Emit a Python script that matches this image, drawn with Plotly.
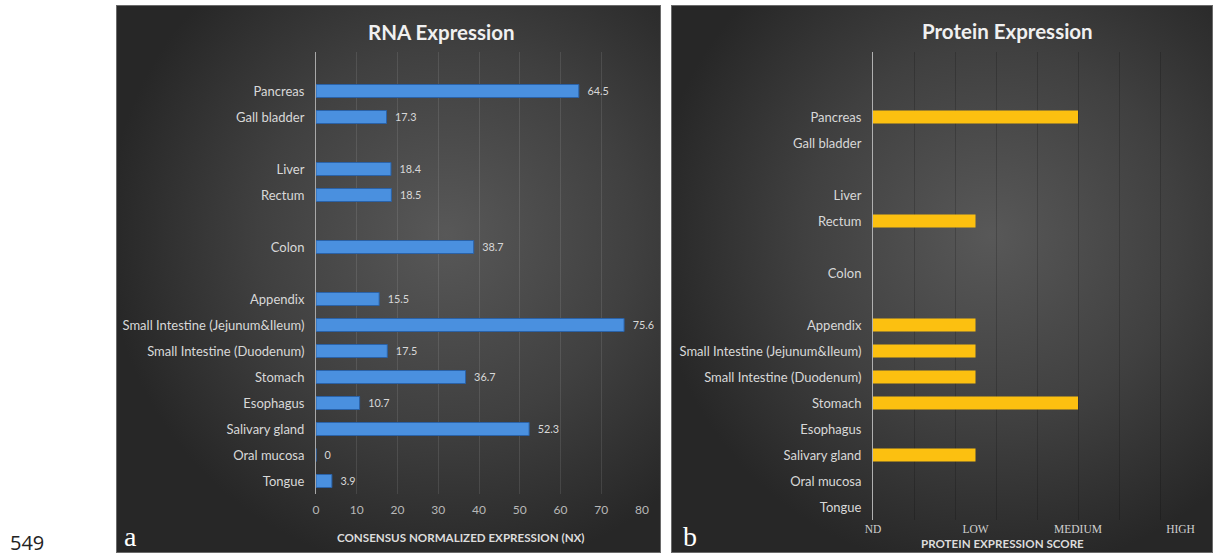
import base64
import plotly.graph_objects as go

# Tissues grouped by organ system (a blank row separates each group), top to bottom
tissue_groups = [
    ["Pancreas", "Gall bladder"],
    ["Liver", "Rectum"],
    ["Colon"],
    ["Appendix", "Small Intestine (Jejunum&Ileum)", "Small Intestine (Duodenum)",
     "Stomach", "Esophagus", "Salivary gland", "Oral mucosa", "Tongue"],
]

rna_nx = {
    "Pancreas": 64.5, "Gall bladder": 17.3, "Liver": 18.4, "Rectum": 18.5,
    "Colon": 38.7, "Appendix": 15.5, "Small Intestine (Jejunum&Ileum)": 75.6,
    "Small Intestine (Duodenum)": 17.5, "Stomach": 36.7, "Esophagus": 10.7,
    "Salivary gland": 52.3, "Oral mucosa": 0, "Tongue": 3.9,
}

score_levels = ["ND", "LOW", "MEDIUM", "HIGH"]
protein_score = {
    "Pancreas": "MEDIUM", "Gall bladder": "ND", "Liver": "ND", "Rectum": "LOW",
    "Colon": "ND", "Appendix": "LOW", "Small Intestine (Jejunum&Ileum)": "LOW",
    "Small Intestine (Duodenum)": "LOW", "Stomach": "MEDIUM", "Esophagus": "ND",
    "Salivary gland": "LOW", "Oral mucosa": "ND", "Tongue": "ND",
}

rna_ticks = [0, 10, 20, 30, 40, 50, 60, 70, 80]

# row index for every tissue, leaving an empty row between groups
tissues, rows = [], []
r = 0
for gi, grp in enumerate(tissue_groups):
    if gi:
        r += 1
    for t in grp:
        tissues.append(t)
        rows.append(-r)
        r += 1

rna_vals = [rna_nx[t] for t in tissues]
prot_vals = [score_levels.index(protein_score[t]) for t in tissues]

W, H = 1213, 558
FONT = "Lato, 'Open Sans', sans-serif"
NBSP = "\u00a0"


def px_x(p):
    return p / W


def px_y(p):
    return 1 - p / H


def panel_bg(w, h, cx, cy):
    svg = (
        f"<svg xmlns='http://www.w3.org/2000/svg' width='{w}' height='{h}' "
        f"viewBox='0 0 {w} {h}' preserveAspectRatio='none'>"
        f"<defs><radialGradient id='g' gradientUnits='userSpaceOnUse' cx='{cx}' cy='{cy}' r='{0.62 * max(w, h)}'>"
        "<stop offset='0' stop-color='#585858'/>"
        "<stop offset='0.55' stop-color='#404040'/>"
        "<stop offset='1' stop-color='#272727'/>"
        "</radialGradient></defs>"
        f"<rect x='0' y='0' width='{w}' height='{h}' fill='url(#g)'/>"
        f"<rect x='0.5' y='0.5' width='{w - 1}' height='{h - 1}' fill='none' stroke='#6a6a6a' stroke-width='1'/>"
        "</svg>"
    )
    return "data:image/svg+xml;base64," + base64.b64encode(svg.encode()).decode()


fig = go.Figure()

fig.add_trace(go.Bar(
    x=rna_vals, y=rows, orientation="h", width=0.5,
    marker=dict(color="#4a90df", line=dict(color="#2a62a8", width=1)),
    text=[f"{NBSP}{NBSP}{v:g}" for v in rna_vals], textposition="outside",
    textfont=dict(color="#d8d8d8", size=12.5, family=FONT),
    cliponaxis=False, xaxis="x", yaxis="y", showlegend=False,
))

fig.add_trace(go.Bar(
    x=prot_vals, y=rows, orientation="h", width=0.5,
    marker=dict(color="#fcc010", line=dict(width=0)),
    xaxis="x2", yaxis="y2", showlegend=False,
))

fig.update_layout(
    width=W, height=H,
    margin=dict(l=0, r=0, t=0, b=0, autoexpand=False),
    paper_bgcolor="white", plot_bgcolor="rgba(0,0,0,0)",
    font=dict(family=FONT, color="#d8d8d8"),
    xaxis=dict(
        domain=[px_x(316), px_x(642)], range=[0, 80], tickvals=rna_ticks,
        showgrid=True, gridcolor="rgba(255,255,255,0.10)", gridwidth=1,
        zeroline=False, ticks="outside", ticklen=5, tickcolor="rgba(0,0,0,0)",
        tickfont=dict(size=12, color="#b8b8b8"), anchor="y", automargin=False,
    ),
    yaxis=dict(
        domain=[px_y(494), px_y(52)], range=[-15.5, 1.5],
        tickvals=rows, ticktext=tissues, showgrid=False, zeroline=False,
        showline=True, linecolor="#a8a8a8", linewidth=1,
        ticks="outside", ticklen=8, tickcolor="rgba(0,0,0,0)",
        tickfont=dict(size=13, color="#d8d8d8"), anchor="x", automargin=False,
    ),
    xaxis2=dict(
        domain=[px_x(873), px_x(1201)], range=[0, 3.2],
        tickvals=[0, 1, 2, 3], ticktext=score_levels,
        showgrid=False, zeroline=False,
        minor=dict(dtick=0.4, tick0=0, showgrid=True, gridcolor="rgba(0,0,0,0.18)", gridwidth=1),
        ticks="", tickfont=dict(size=11.5, color="#d0d0d0", family="'Liberation Serif', serif"),
        anchor="y2", automargin=False,
    ),
    yaxis2=dict(
        domain=[px_y(520), px_y(52)], range=[-15.5, 2.5],
        tickvals=rows, ticktext=tissues, showgrid=False, zeroline=False,
        showline=True, linecolor="#b0b0b0", linewidth=1,
        ticks="outside", ticklen=8, tickcolor="rgba(0,0,0,0)",
        tickfont=dict(size=13, color="#d8d8d8"), anchor="x2", automargin=False,
    ),
)

# dark gradient panels behind each chart
fig.add_layout_image(dict(
    source=panel_bg(545, 548, 330, 230), xref="paper", yref="paper",
    x=px_x(116), y=px_y(5), sizex=545 / W, sizey=548 / H,
    xanchor="left", yanchor="top", sizing="stretch", layer="below",
))
fig.add_layout_image(dict(
    source=panel_bg(542, 548, 320, 230), xref="paper", yref="paper",
    x=px_x(671), y=px_y(5), sizex=542 / W, sizey=548 / H,
    xanchor="left", yanchor="top", sizing="stretch", layer="below",
))

notes = [
    dict(text="<b>RNA Expression</b>", x=441, y=32, size=20.5, family=FONT, color="#f0f0f0"),
    dict(text="<b>Protein Expression</b>", x=1007, y=31, size=20.5, family=FONT, color="#f0f0f0"),
    dict(text="<b>CONSENSUS NORMALIZED EXPRESSION (NX)</b>", x=461, y=537, size=11.6, family=FONT, color="#dcdcdc"),
    dict(text="<b>PROTEIN EXPRESSION SCORE</b>", x=1002, y=543, size=11.6, family=FONT, color="#dcdcdc"),
    dict(text="a", x=130, y=536, size=28, family="'Liberation Serif', serif", color="#ffffff"),
    dict(text="b", x=690, y=536, size=28, family="'Liberation Serif', serif", color="#ffffff"),
]
for n in notes:
    fig.add_annotation(
        text=n["text"], x=px_x(n["x"]), y=px_y(n["y"]), xref="paper", yref="paper",
        xanchor="center", yanchor="middle", showarrow=False,
        font=dict(size=n["size"], family=n["family"], color=n["color"]),
    )

# page number at the bottom-left corner
fig.add_annotation(
    text="549", x=px_x(9), y=px_y(557), xref="paper", yref="paper",
    xanchor="left", yanchor="bottom", showarrow=False, borderpad=0,
    font=dict(size=20, family="'Open Sans', sans-serif", color="#222222"),
)

fig.write_html("out.html")
